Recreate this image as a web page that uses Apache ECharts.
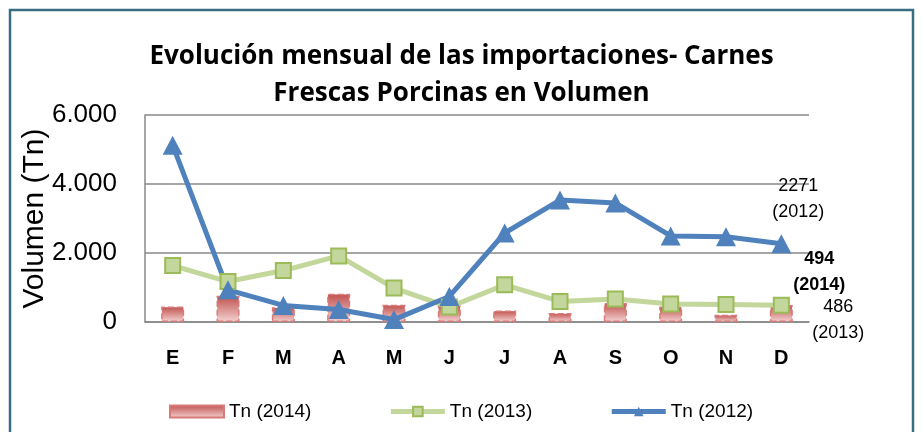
<!DOCTYPE html>
<html>
<head>
<meta charset="utf-8">
<script src="https://cdn.jsdelivr.net/npm/echarts@6/dist/echarts.min.js"></script>
<style>
  html, body { margin: 0; padding: 0; background: #fff; }
  #chart { width: 923px; height: 432px; }
</style>
</head>
<body>
<div id="chart"></div>
<script>
// Datos
const months = ['E', 'F', 'M', 'A', 'M', 'J', 'J', 'A', 'S', 'O', 'N', 'D'];
const tn2014 = [450, 760, 430, 820, 500, 480, 335, 260, 550, 450, 210, 494];
const tn2013 = [1636, 1173, 1491, 1916, 983, 434, 1078, 595, 665, 520, 509, 486];
const tn2012 = [5124, 933, 480, 360, 70, 740, 2580, 3535, 3450, 2494, 2474, 2271];
const yTicks = ['0', '2.000', '4.000', '6.000'];

const FONT = 'Liberation Sans';

// el último punto lleva la etiqueta con el año
function withLastLabel(values, label) {
  return values.map(function(v, i) {
    if (i !== values.length - 1) return v;
    return { value: v, label: label };
  });
}

const barGradient = new echarts.graphic.LinearGradient(0, 0, 0, 1, [
  { offset: 0, color: '#c0504d' },
  { offset: 1, color: '#f4d3d2' }
]);

const chart = echarts.init(document.getElementById('chart'));

const option = {
  backgroundColor: '#fff',
  animation: false,
  title: {
    text: 'Evolución mensual de las importaciones- Carnes\nFrescas Porcinas en Volumen',
    left: 'center',
    top: 33,
    textStyle: {
      fontFamily: 'Open Sans',
      fontSize: 26,
      fontWeight: 'bold',
      color: '#000',
      lineHeight: 37
    }
  },
  graphic: [{
    type: 'rect',
    shape: { x: 10, y: 10, width: 903, height: 440 },
    style: { fill: 'none', stroke: '#386d82', lineWidth: 2.5 },
    silent: true
  }],
  legend: {
    left: 164,
    top: 397,
    itemWidth: 54,
    itemHeight: 12,
    itemGap: 77,
    textStyle: { fontFamily: FONT, fontSize: 19, color: '#000' },
    data: [
      { name: 'Tn (2014)', icon: 'rect' },
      { name: 'Tn (2013)', lineStyle: { width: 5 } },
      { name: 'Tn (2012)', lineStyle: { width: 5 } }
    ]
  },
  grid: {
    left: 145,
    right: 114,
    top: 115,
    bottom: 110
  },
  xAxis: {
    type: 'category',
    data: months,
    axisLine: { lineStyle: { color: '#888', width: 1.5 } },
    axisTick: { show: false },
    axisLabel: {
      margin: 26,
      fontFamily: FONT,
      fontSize: 20,
      fontWeight: 'bold',
      color: '#000'
    }
  },
  yAxis: {
    type: 'value',
    min: 0,
    max: 6000,
    interval: 2000,
    name: 'Volumen (Tn)',
    nameLocation: 'middle',
    nameGap: 95,
    nameMoveOverlap: false,
    nameTextStyle: { fontFamily: FONT, fontSize: 30, color: '#000' },
    axisLine: { show: true, lineStyle: { color: '#888', width: 1.5 } },
    axisTick: { show: false },
    splitLine: { lineStyle: { color: '#888', width: 1.5 } },
    axisLabel: {
      margin: 28,
      fontFamily: FONT,
      fontSize: 26,
      color: '#000',
      formatter: function(value) {
        return yTicks[value / 2000];
      }
    }
  },
  series: [
    {
      name: 'Tn (2014)',
      type: 'bar',
      barWidth: 23,
      data: withLastLabel(tn2014, {
        show: true,
        position: 'top',
        offset: [38, -2],
        formatter: '{c}\n(2014)',
        fontFamily: FONT,
        fontSize: 18,
        fontWeight: 'bold',
        lineHeight: 26,
        color: '#000'
      }),
      itemStyle: {
        color: barGradient,
        borderColor: '#d87a78',
        borderWidth: 1.5,
        borderType: 'dashed'
      }
    },
    {
      name: 'Tn (2013)',
      type: 'line',
      data: withLastLabel(tn2013, {
        show: true,
        position: 'inside',
        offset: [57, 15],
        formatter: '{c}\n(2013)',
        fontFamily: FONT,
        fontSize: 18,
        lineHeight: 26,
        color: '#000'
      }),
      symbol: 'rect',
      symbolSize: 15,
      lineStyle: { color: '#c3d69b', width: 5 },
      itemStyle: { color: '#c3d69b', borderColor: '#9bbb59', borderWidth: 2 }
    },
    {
      name: 'Tn (2012)',
      type: 'line',
      data: withLastLabel(tn2012, {
        show: true,
        position: 'inside',
        offset: [17, -45],
        formatter: '{c}\n(2012)',
        fontFamily: FONT,
        fontSize: 18,
        lineHeight: 26,
        color: '#000'
      }),
      symbol: 'triangle',
      symbolSize: [20, 19],
      lineStyle: { color: '#4f81bd', width: 5 },
      itemStyle: { color: '#4f81bd' }
    }
  ]
};

chart.setOption(option);

window.addEventListener('resize', function() {
  chart.resize();
});
</script>
</body>
</html>
